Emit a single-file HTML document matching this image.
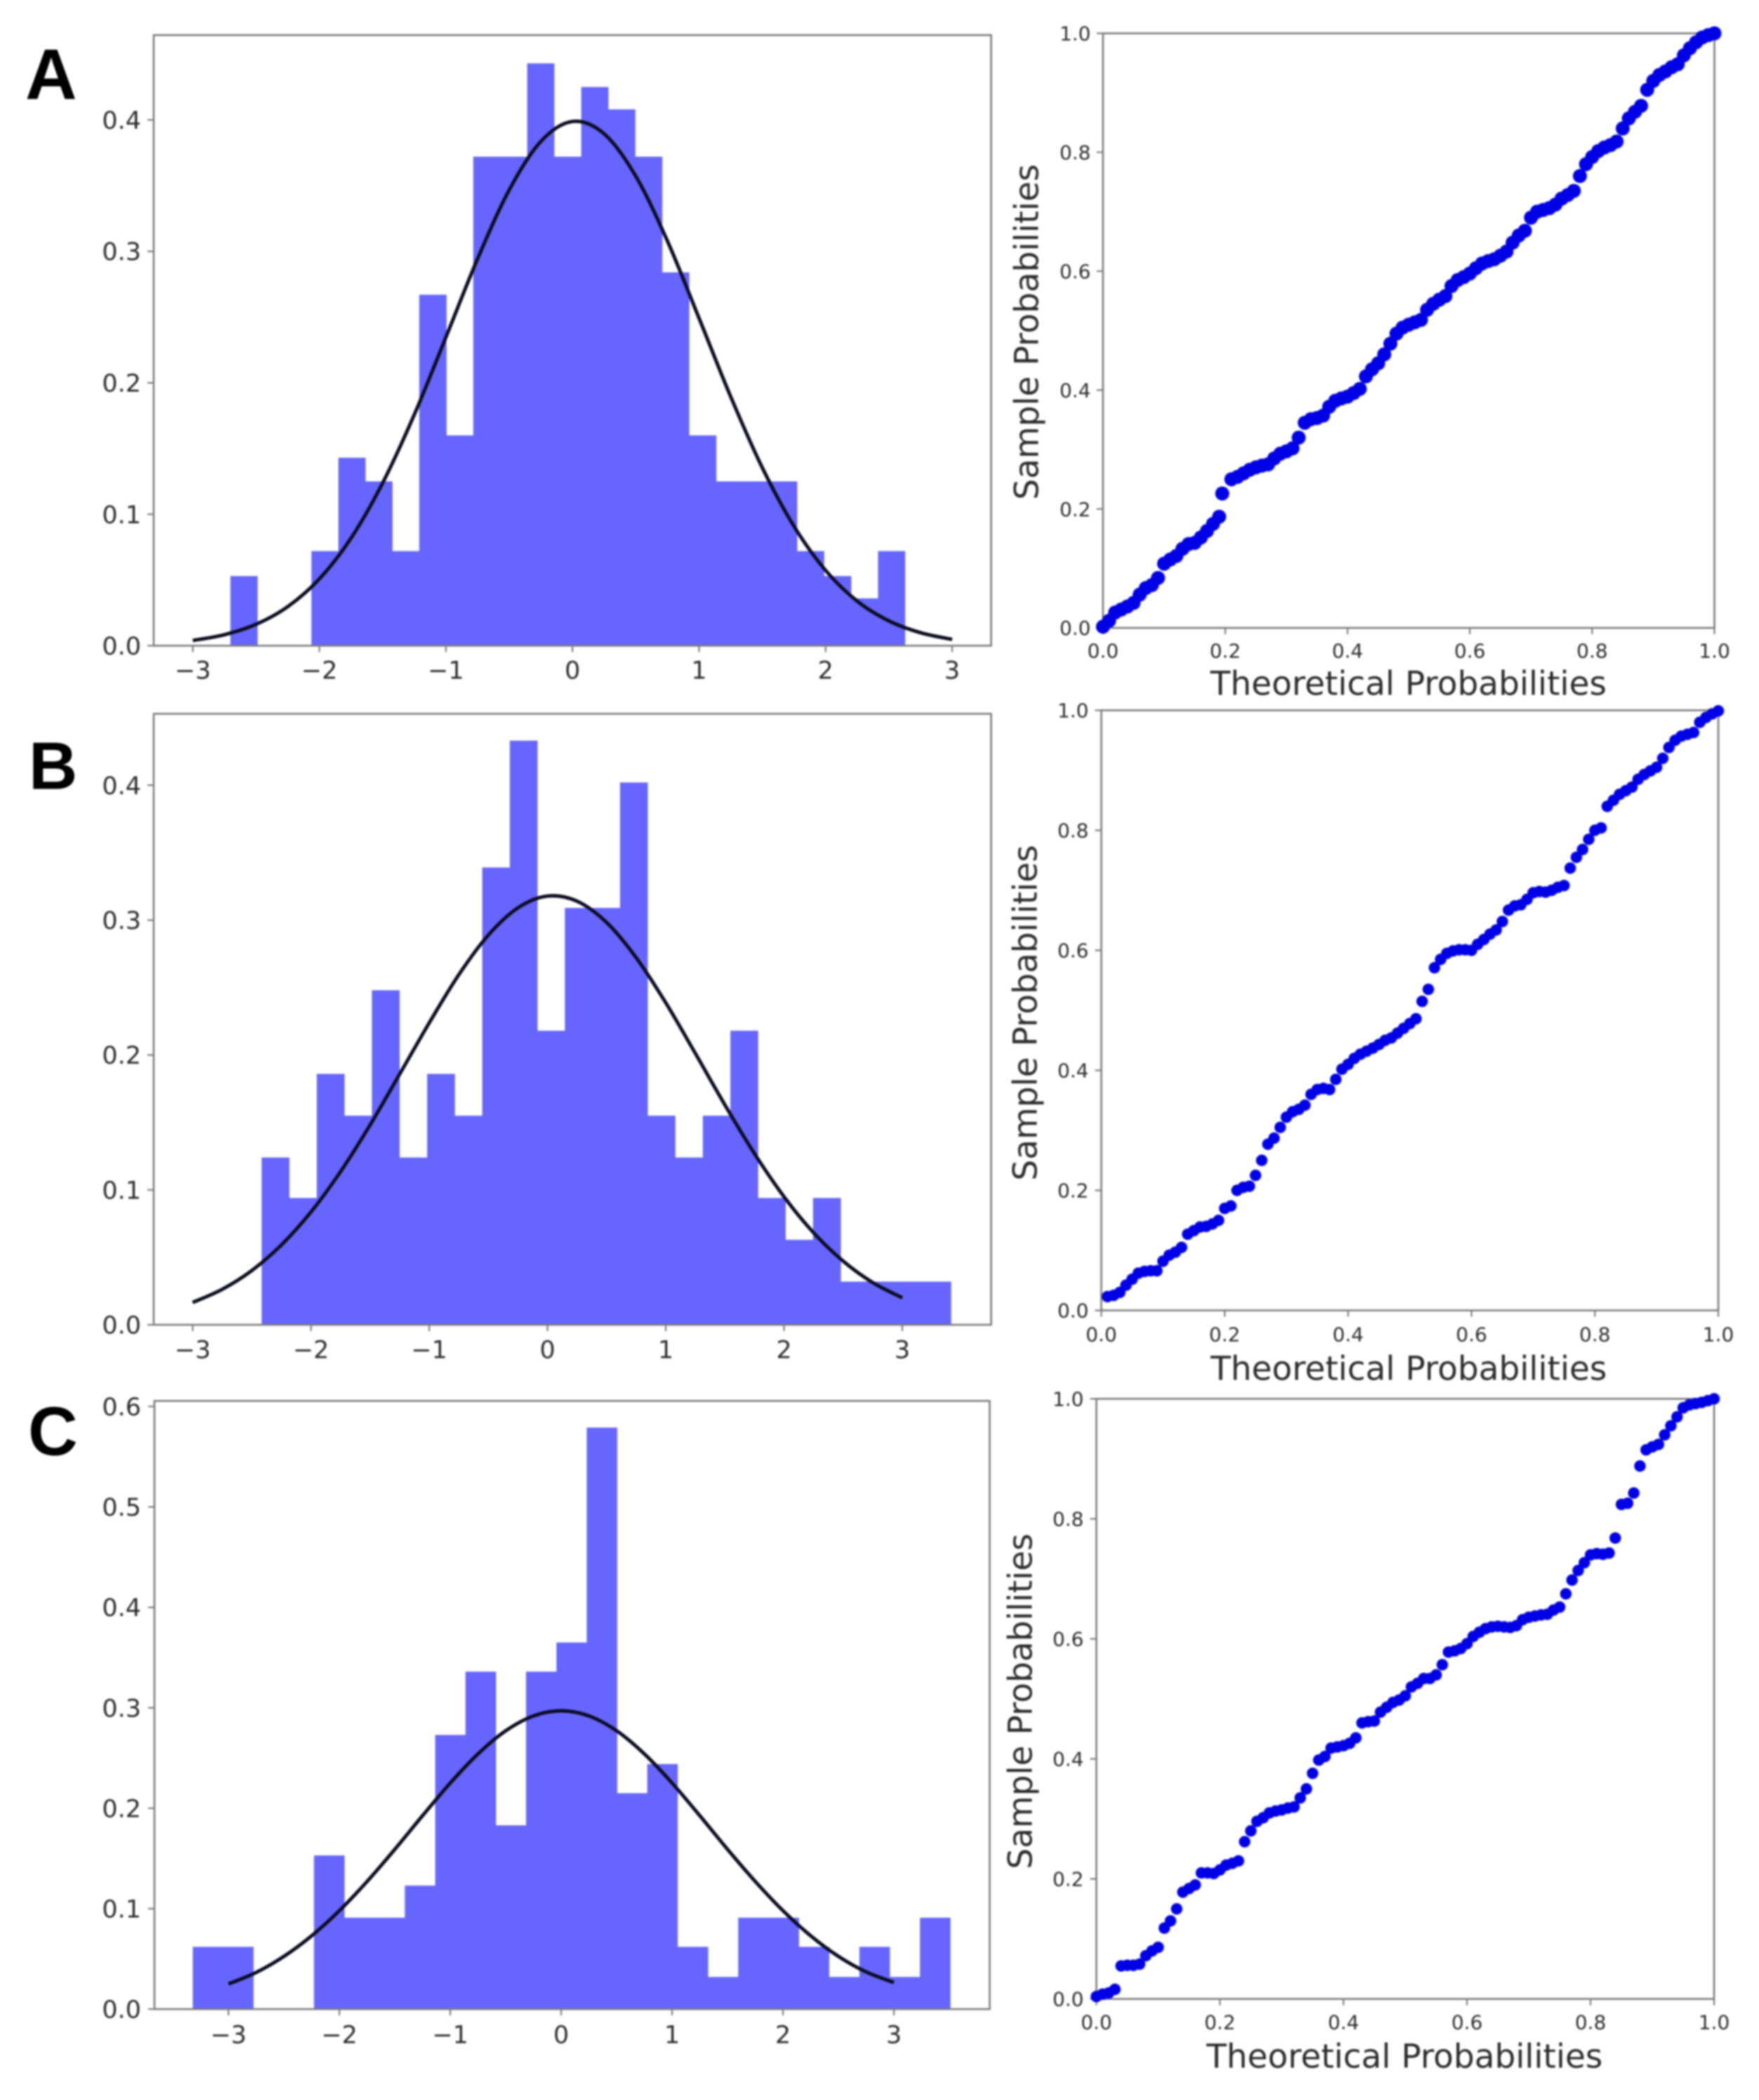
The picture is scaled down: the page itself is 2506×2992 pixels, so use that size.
<!DOCTYPE html>
<html lang="en">
<head>
<meta charset="utf-8">
<title>Histograms and P-P plots</title>
<style>
  html, body { margin: 0; padding: 0; background: #fff; }
  body { width: 2506px; height: 2992px; overflow: hidden; }
  svg { display: block; filter: blur(1.3px); }
  text { font-family: "DejaVu Sans", "Liberation Sans", sans-serif; fill: #2b2b2b; }
  .panel-letter { font-family: "Liberation Sans", sans-serif; font-weight: 700; fill: #000; }
</style>
</head>
<body>
<svg id="figure" xmlns="http://www.w3.org/2000/svg" width="2506" height="2992" viewBox="0 0 2506 2992">
  <rect x="0" y="0" width="2506" height="2992" fill="#ffffff"/>
  <text class="panel-letter" x="36" y="141" font-size="102">A</text>
  <text class="panel-letter" x="41" y="1124" font-size="96">B</text>
  <text class="panel-letter" x="40" y="2073" font-size="98">C</text>
</svg>
<script>
// ---------- histogram data ----------
const histAEdges = [-2.703,-2.490,-2.277,-2.063,-1.850,-1.637,-1.424,-1.211,-0.997,-0.784,-0.571,-0.358,-0.145,0.069,0.282,0.495,0.708,0.921,1.135,1.348,1.561,1.774,1.987,2.201,2.414,2.627];
const histAValues = [0.053,0,0,0.072,0.143,0.125,0.072,0.267,0.160,0.372,0.372,0.443,0.372,0.425,0.408,0.372,0.284,0.160,0.125,0.125,0.125,0.072,0.053,0.036,0.072];
const histBEdges = [-2.417,-2.184,-1.951,-1.718,-1.485,-1.252,-1.018,-0.785,-0.552,-0.319,-0.086,0.147,0.380,0.613,0.846,1.079,1.313,1.546,1.779,2.012,2.245,2.478,2.711,2.944,3.177,3.411];
const histBValues = [0.124,0.094,0.186,0.155,0.248,0.124,0.186,0.155,0.339,0.433,0.218,0.309,0.309,0.402,0.155,0.124,0.155,0.218,0.094,0.063,0.094,0.032,0.032,0.032,0.032];
const histCEdges = [-3.322,-3.049,-2.776,-2.502,-2.229,-1.956,-1.683,-1.410,-1.136,-0.863,-0.590,-0.317,-0.043,0.230,0.503,0.776,1.049,1.323,1.596,1.869,2.142,2.415,2.689,2.962,3.235,3.508];
const histCValues = [0.062,0.062,0,0,0.153,0.091,0.091,0.123,0.273,0.336,0.183,0.336,0.365,0.579,0.215,0.244,0.062,0.032,0.091,0.091,0.062,0.032,0.062,0.032,0.091];

// ---------- fitted curve readings ----------
const curveX = [-3,-2.75,-2.5,-2.25,-2,-1.75,-1.5,-1.25,-1,-0.75,-0.5,-0.25,0,0.25,0.5,0.75,1,1.25,1.5,1.75,2,2.25,2.5,2.75,3];
const curveAValues = [0.0040,0.0084,0.0163,0.0297,0.0508,0.0818,0.1238,0.1758,0.2347,0.2943,0.3467,0.3836,0.3988,0.3894,0.3572,0.3079,0.2492,0.1895,0.1354,0.0909,0.0573,0.0339,0.0189,0.0099,0.0048];
const curveBValues = [0.0165,0.0263,0.0402,0.0592,0.0836,0.1135,0.1481,0.1858,0.2238,0.2595,0.2889,0.3091,0.3178,0.3140,0.2982,0.2721,0.2387,0.2012,0.1630,0.1269,0.0949,0.0682,0.0472,0.0313,0.0200];
const curveCValues = [0.0250,0.0365,0.0525,0.0730,0.0980,0.1271,0.1591,0.1926,0.2251,0.2541,0.2771,0.2919,0.2970,0.2919,0.2771,0.2541,0.2251,0.1926,0.1591,0.1271,0.0980,0.0730,0.0525,0.0370,0.0265];

// ---------- histogram ticks ----------
const histXTicks = [-3,-2,-1,0,1,2,3];
const histXTickLabels = ["\u22123","\u22122","\u22121","0","1","2","3"];
const histABYTicks = [0,0.1,0.2,0.3,0.4];
const histABYTickLabels = ["0.0","0.1","0.2","0.3","0.4"];
const histCYTicks = [0,0.1,0.2,0.3,0.4,0.5,0.6];
const histCYTickLabels = ["0.0","0.1","0.2","0.3","0.4","0.5","0.6"];

// ---------- P-P data ----------
const qqAX = [0,0.01,0.02,0.03,0.04,0.05,0.06,0.07,0.08,0.09,0.10,0.11,0.12,0.13,0.14,0.15,0.16,0.17,0.18,0.19,0.195,0.21,0.22,0.23,0.24,0.25,0.26,0.27,0.28,0.29,0.30,0.31,0.32,0.33,0.34,0.35,0.36,0.37,0.38,0.39,0.40,0.41,0.42,0.43,0.44,0.45,0.46,0.47,0.48,0.49,0.50,0.51,0.52,0.53,0.54,0.55,0.56,0.57,0.58,0.59,0.60,0.61,0.62,0.63,0.64,0.65,0.66,0.67,0.68,0.69,0.70,0.71,0.72,0.73,0.74,0.75,0.76,0.77,0.78,0.79,0.80,0.81,0.82,0.83,0.84,0.85,0.86,0.87,0.88,0.89,0.90,0.91,0.92,0.93,0.94,0.95,0.96,0.97,0.98,0.99,1.0];
const qqAY = [0.002,0.012,0.026,0.031,0.036,0.042,0.056,0.067,0.072,0.084,0.108,0.115,0.121,0.133,0.141,0.143,0.152,0.163,0.175,0.187,0.226,0.250,0.254,0.260,0.266,0.270,0.273,0.275,0.285,0.293,0.297,0.302,0.320,0.345,0.351,0.353,0.357,0.372,0.382,0.386,0.389,0.395,0.402,0.423,0.435,0.445,0.460,0.478,0.495,0.505,0.510,0.514,0.518,0.535,0.545,0.552,0.558,0.575,0.585,0.590,0.596,0.605,0.613,0.617,0.620,0.626,0.633,0.648,0.660,0.668,0.690,0.700,0.703,0.706,0.712,0.722,0.728,0.735,0.760,0.780,0.792,0.802,0.808,0.812,0.818,0.840,0.857,0.868,0.878,0.905,0.920,0.930,0.936,0.943,0.948,0.963,0.975,0.985,0.993,0.997,1.0];
const qqBX = [0.01,0.02,0.03,0.04,0.05,0.06,0.07,0.08,0.09,0.10,0.11,0.12,0.13,0.14,0.15,0.16,0.17,0.18,0.19,0.20,0.21,0.22,0.23,0.24,0.25,0.26,0.27,0.28,0.29,0.30,0.31,0.32,0.33,0.34,0.35,0.36,0.37,0.38,0.39,0.40,0.41,0.42,0.43,0.44,0.45,0.46,0.47,0.48,0.49,0.50,0.51,0.52,0.53,0.54,0.55,0.56,0.57,0.58,0.59,0.60,0.61,0.62,0.63,0.64,0.65,0.66,0.67,0.68,0.69,0.70,0.71,0.72,0.73,0.74,0.75,0.76,0.77,0.78,0.79,0.80,0.81,0.82,0.83,0.84,0.85,0.86,0.87,0.88,0.89,0.90,0.91,0.92,0.93,0.94,0.95,0.96,0.97,0.98,0.99,1.0];
const qqBY = [0.023,0.025,0.030,0.042,0.052,0.062,0.065,0.066,0.066,0.082,0.092,0.097,0.105,0.127,0.133,0.139,0.140,0.144,0.150,0.170,0.174,0.200,0.205,0.207,0.225,0.250,0.277,0.287,0.305,0.322,0.331,0.335,0.342,0.360,0.368,0.370,0.368,0.385,0.402,0.410,0.420,0.427,0.432,0.437,0.443,0.450,0.454,0.462,0.470,0.478,0.486,0.515,0.535,0.571,0.585,0.595,0.599,0.601,0.601,0.600,0.610,0.618,0.627,0.634,0.648,0.667,0.674,0.676,0.685,0.696,0.698,0.697,0.700,0.705,0.708,0.737,0.755,0.768,0.785,0.800,0.804,0.840,0.850,0.860,0.866,0.872,0.885,0.893,0.899,0.905,0.920,0.938,0.950,0.957,0.960,0.963,0.980,0.988,0.994,0.999];
const qqCX = [0,0.01,0.02,0.03,0.04,0.05,0.06,0.07,0.08,0.09,0.10,0.11,0.12,0.13,0.14,0.15,0.16,0.17,0.18,0.19,0.20,0.21,0.22,0.23,0.24,0.25,0.26,0.27,0.28,0.29,0.30,0.31,0.32,0.33,0.34,0.35,0.36,0.37,0.38,0.39,0.40,0.41,0.42,0.43,0.44,0.45,0.46,0.47,0.48,0.49,0.50,0.51,0.52,0.53,0.54,0.55,0.56,0.57,0.58,0.59,0.60,0.61,0.62,0.63,0.64,0.65,0.66,0.67,0.68,0.69,0.70,0.71,0.72,0.73,0.74,0.75,0.76,0.77,0.78,0.79,0.80,0.81,0.82,0.83,0.84,0.85,0.86,0.87,0.88,0.89,0.90,0.91,0.92,0.93,0.94,0.95,0.96,0.97,0.98,0.99,1.0];
const qqCY = [0.004,0.008,0.010,0.016,0.055,0.056,0.056,0.058,0.072,0.080,0.086,0.118,0.130,0.150,0.178,0.184,0.190,0.210,0.210,0.209,0.215,0.223,0.226,0.230,0.262,0.280,0.296,0.302,0.310,0.313,0.315,0.318,0.320,0.335,0.350,0.376,0.398,0.404,0.418,0.420,0.422,0.426,0.435,0.460,0.462,0.463,0.478,0.486,0.494,0.498,0.505,0.520,0.526,0.534,0.534,0.540,0.557,0.578,0.580,0.584,0.592,0.604,0.611,0.617,0.620,0.621,0.620,0.619,0.622,0.632,0.636,0.638,0.640,0.641,0.648,0.653,0.675,0.698,0.714,0.727,0.740,0.742,0.741,0.743,0.768,0.824,0.826,0.843,0.888,0.915,0.920,0.924,0.940,0.955,0.970,0.985,0.990,0.992,0.994,0.997,1.0];

// ---------- P-P ticks ----------
const qqTicks = [0,0.2,0.4,0.6,0.8,1.0];
const qqTickLabels = ["0.0","0.2","0.4","0.6","0.8","1.0"];

const svg = document.getElementById('figure');
const NS = 'http://www.w3.org/2000/svg';
const FRAME_COLOR = '#7a7a7a';

function make(tag, attrs, parent) {
  const node = document.createElementNS(NS, tag);
  for (const k in attrs) node.setAttribute(k, attrs[k]);
  parent.appendChild(node);
  return node;
}

function smoothPath(pts) {
  let d = 'M' + pts[0][0].toFixed(2) + ' ' + pts[0][1].toFixed(2);
  for (let i = 0; i < pts.length - 1; i++) {
    const p0 = pts[Math.max(0, i - 1)], p1 = pts[i], p2 = pts[i + 1], p3 = pts[Math.min(pts.length - 1, i + 2)];
    const c1x = p1[0] + (p2[0] - p0[0]) / 6, c1y = p1[1] + (p2[1] - p0[1]) / 6;
    const c2x = p2[0] - (p3[0] - p1[0]) / 6, c2y = p2[1] - (p3[1] - p1[1]) / 6;
    d += 'C' + c1x.toFixed(2) + ' ' + c1y.toFixed(2) + ' ' + c2x.toFixed(2) + ' ' + c2y.toFixed(2) + ' ' + p2[0].toFixed(2) + ' ' + p2[1].toFixed(2);
  }
  return d;
}

function drawAxes(group, prefix, box, xScale, yScale, xTicks, xLabels, yTicks, yLabels, fontSize, xBaseline, yLabelRight) {
  const frame = make('rect', { x: box.left, y: box.top, width: box.right - box.left, height: box.bottom - box.top, fill: 'none', stroke: FRAME_COLOR, 'stroke-width': 2.6 }, group);
  
  
  xTicks.forEach(function (t, i) {
    const px = xScale(t);
    const tick = make('line', { x1: px, x2: px, y1: box.bottom, y2: box.bottom + 9, stroke: FRAME_COLOR, 'stroke-width': 2.2 }, group);
    
    
    const label = make('text', { x: px, y: xBaseline, 'text-anchor': 'middle', 'font-size': fontSize }, group);
    label.textContent = xLabels[i];
    
    
  });
  yTicks.forEach(function (t, i) {
    const py = yScale(t);
    const tick = make('line', { x1: box.left - 9, x2: box.left, y1: py, y2: py, stroke: FRAME_COLOR, 'stroke-width': 2.2 }, group);
    
    
    const label = make('text', { x: yLabelRight, y: py + fontSize * 0.36, 'text-anchor': 'end', 'font-size': fontSize }, group);
    label.textContent = yLabels[i];
    
    
  });
}

function drawHist(prefix, box, x0Px, xUnit, yUnit, edges, values, curveValues, yTicks, yLabels, xBaseline) {
  const group = make('g', {}, svg);
  
  
  const xScale = function (v) { return x0Px + v * xUnit; };
  const yScale = function (v) { return box.bottom - v * yUnit; };
  values.forEach(function (v, i) {
    const x1 = xScale(edges[i]), x2 = xScale(edges[i + 1]), y = yScale(v);
    const bar = make('rect', { x: x1, y: y, width: x2 - x1 + 0.4, height: box.bottom - y, fill: '#6666ff' }, group);
    
    
  });
  const curvePts = curveX.map(function (x, i) { return [xScale(x), yScale(curveValues[i])]; });
  const curve = make('path', { d: smoothPath(curvePts), fill: 'none', stroke: '#0b0b1e', 'stroke-width': 5 }, group);
  
  
  drawAxes(group, prefix, box, xScale, yScale, histXTicks, histXTickLabels, yTicks, yLabels, 35, xBaseline, 201);
}

function drawQQ(prefix, box, xs, ys, radius, xBaseline, yLabelRight, xTitle, yTitle) {
  const group = make('g', {}, svg);
  
  
  const xScale = function (v) { return box.left + v * (box.right - box.left); };
  const yScale = function (v) { return box.bottom - v * (box.bottom - box.top); };
  drawAxes(group, prefix, box, xScale, yScale, qqTicks, qqTickLabels, qqTicks, qqTickLabels, 28, xBaseline, yLabelRight);
  xs.forEach(function (x, i) {
    const dot = make('circle', { cx: xScale(x), cy: yScale(ys[i]), r: radius, fill: '#0000e6' }, group);
    
    
  });
  const xt = make('text', { x: xTitle.x, y: xTitle.y, 'text-anchor': 'middle', 'font-size': 47 }, group);
  xt.textContent = 'Theoretical Probabilities';
  
  
  const yt = make('text', { x: 0, y: 0, 'text-anchor': 'middle', 'font-size': 47, transform: 'translate(' + yTitle.x + ' ' + yTitle.y + ') rotate(-90)' }, group);
  yt.textContent = 'Sample Probabilities';
  
  
}

drawHist('histogram-a', { left: 219, right: 1412, top: 50, bottom: 920 }, 815.6, 180.3, 1873, histAEdges, histAValues, curveAValues, histABYTicks, histABYTickLabels, 967);
drawHist('histogram-b', { left: 219, right: 1412, top: 1017, bottom: 1887.5 }, 780, 168.5, 1922, histBEdges, histBValues, curveBValues, histABYTicks, histABYTickLabels, 1935);
drawHist('histogram-c', { left: 220, right: 1410, top: 1996, bottom: 2862.5 }, 799.5, 158, 1431, histCEdges, histCValues, curveCValues, histCYTicks, histCYTickLabels, 2911);

drawQQ('pp-plot-a', { left: 1571.4, right: 2442.5, top: 47.5, bottom: 894.6 }, qqAX, qqAY, 10, 937, 1554, { x: 2006.6, y: 990 }, { x: 1479, y: 473 });
drawQQ('pp-plot-b', { left: 1569, right: 2448, top: 1012, bottom: 1867 }, qqBX, qqBY, 8.2, 1911, 1551, { x: 2007, y: 1966 }, { x: 1477, y: 1443 });
drawQQ('pp-plot-c', { left: 1562, right: 2442, top: 1993, bottom: 2848 }, qqCX, qqCY, 8.2, 2891, 1544, { x: 2001, y: 2946 }, { x: 1470, y: 2424 });
</script>
</body>
</html>
